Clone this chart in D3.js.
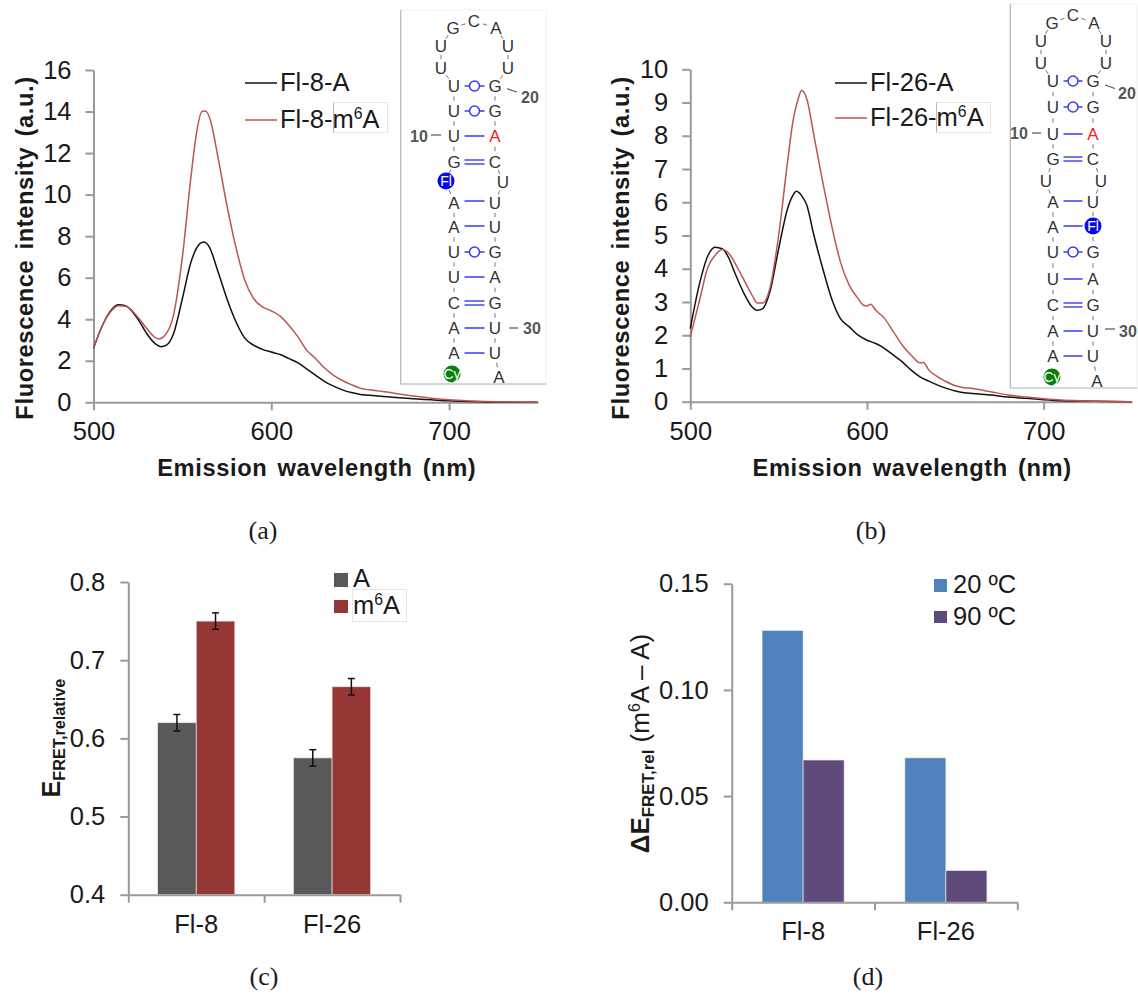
<!DOCTYPE html>
<html>
<head>
<meta charset="utf-8">
<script src="https://cdn.jsdelivr.net/npm/d3@7"></script>
<style>
  body { margin: 0; background: #fff; }
  svg { display: block; }
  text { font-family: "Liberation Sans", Arial, sans-serif; fill: #1a1a1a; }
  .caption { font-family: "Liberation Serif", serif; font-size: 26px; }
  .axis-line { stroke: #9a9a9a; stroke-width: 2; fill: none; }
</style>
</head>
<body>
<div id="chart"></div>
<script>
/// spectra
const wavelengthA8 = [500,505,510,514,518,525,530,535,538,541,545,550,555,560,562,565,570,575,580,585,590,595,600,605,610,615,620,625,630,635,640,645,650,655,660,670,680,690,700,710,720,730,750]
const fl8A = [2.6,3.7,4.45,4.7,4.65,4.0,3.3,2.8,2.68,2.75,3.3,5.0,6.8,7.65,7.72,7.5,6.3,5.0,3.9,3.1,2.75,2.55,2.42,2.3,2.1,1.9,1.6,1.3,1.0,.78,.6,.47,.38,.34,.3,.23,.17,.12,.07,.04,.02,.01,0]

const wavelengthM8 = [500,505,510,514,518,525,530,535,537,540,545,550,555,558,561,563,566,570,575,580,585,590,595,600,605,610,615,620,625,630,635,640,645,650,655,660,665,670,680,690,700,710,720,730,750]
const fl8M = [2.6,3.7,4.4,4.65,4.62,4.1,3.55,3.1,3.05,3.2,4.2,7.0,11,13,14.0,14.02,13.5,11.8,9.5,7.5,5.9,5.0,4.6,4.4,4.15,3.7,3.15,2.5,2.1,1.65,1.3,1.05,.85,.68,.6,.55,.5,.42,.3,.2,.12,.07,.04,.02,0]

const wavelengthA26 = [500,505,510,514,518,522,525,530,535,538,541,545,550,555,558,560,563,566,570,575,580,585,590,595,600,605,610,615,620,625,630,635,640,645,650,655,660,670,680,690,700,710,720,750]
const fl26A = [2.2,3.5,4.4,4.65,4.6,4.3,3.9,3.3,2.85,2.75,2.8,3.3,4.6,5.8,6.2,6.33,6.2,5.9,5.0,4.0,3.1,2.5,2.25,2.0,1.85,1.75,1.6,1.4,1.2,.95,.75,.62,.5,.4,.32,.27,.25,.2,.14,.1,.06,.03,.02,0]

const wavelengthM26 = [500,505,510,514,518,522,527,530,535,538,541,545,550,555,558,561,563,566,570,575,580,585,590,595,598,600,602,605,610,615,620,625,630,632,635,640,645,650,655,660,665,670,680,690,700,710,720,750]
const fl26M = [1.95,3.0,4.05,4.4,4.58,4.45,4.0,3.7,3.2,2.97,2.97,3.4,5.0,7.2,8.4,9.1,9.36,9.1,8.0,6.6,5.3,4.2,3.5,3.1,2.9,2.88,2.93,2.75,2.5,2.1,1.7,1.4,1.17,1.18,.95,.75,.6,.48,.42,.4,.35,.3,.2,.14,.09,.05,.03,0]

/// bar values
const constructs = ["Fl-8", "Fl-26"]
const relA = [0.62, 0.575]
const relM = [0.75, 0.666]
const relErr = [0.0105, 0.0105]
const delta20 = [0.128, 0.068]
const delta90 = [0.067, 0.015]

const ticksX = [500, 600, 700]
const ticksA = [0, 2, 4, 6, 8, 10, 12, 14, 16]
const ticksB = [0, 1, 2, 3, 4, 5, 6, 7, 8, 9, 10]
const ticksC = [0.4, 0.5, 0.6, 0.7, 0.8]
const ticksD = [0, 0.05, 0.10, 0.15]

const black = "#111111"
const red = "#bd5552"
const blue = "#3a3af5"
const tickFont = 25.5
const legendFont = 25.5

let svg = d3.select("#chart")
    .append("svg")
    .attr("width", 1138)
    .attr("height", 994)

/// text with sub and superscripts, parts are [text, kind, bold]
function rich(sel, parts, size) {
    let prev = 0
    parts.forEach(p => {
        let shift = p[1] == "sup" ? -0.36 * size : p[1] == "sub" ? 0.2 * size : 0
        sel.append("tspan")
            .attr("dy", shift - prev)
            .attr("font-size", p[1] ? size * (p[1] == "sup" ? 0.62 : 0.65) : size)
            .attr("font-weight", p[2] ? "bold" : "normal")
            .text(p[0])
        prev = shift
    })
    return sel
}

function styleAxis(g, size) {
    g.selectAll("path").attr("class", "axis-line")
    g.selectAll("line").attr("stroke", "#9a9a9a").attr("stroke-width", 2)
    g.selectAll("text").attr("font-size", size).attr("fill", "#1a1a1a")
}

function drawLegendBox(x, y, w, h) {
    svg.append("rect")
        .attr("x", x).attr("y", y).attr("width", w).attr("height", h)
        .attr("fill", "#fff").attr("stroke", "#e6e6e6")
}

/// one spectrum panel
function spectrum(cfg) {
    let x = d3.scaleLinear().domain([500, 750]).range(cfg.xr)
    let y = d3.scaleLinear().domain(cfg.yd).range(cfg.yr)

    let gx = svg.append("g").attr("transform", `translate(0, ${cfg.yr[0]})`)
        .call(d3.axisBottom(x).tickValues(ticksX).tickFormat(d3.format("d")).tickSize(8).tickPadding(12).tickSizeOuter(0))
    styleAxis(gx, tickFont)
    let gy = svg.append("g").attr("transform", `translate(${cfg.xr[0]}, 0)`)
        .call(d3.axisLeft(y).tickValues(cfg.ticks).tickSize(8).tickPadding(14).tickSizeOuter(0))
    styleAxis(gy, tickFont)

    let line = d3.line().curve(d3.curveMonotoneX)
        .x(d => x(d[0])).y(d => y(d[1]))

    cfg.series.forEach(s => {
        svg.append("path")
            .datum(d3.zip(s.xs, s.ys))
            .attr("fill", "none")
            .attr("stroke", s.color)
            .attr("stroke-width", 1.5)
            .attr("d", line)
    })

    /// legend
    drawLegendBox(cfg.box[0], cfg.box[1], cfg.box[2], cfg.box[3])
    svg.append("line")
        .attr("x1", cfg.box[0]).attr("x2", cfg.box[0])
        .attr("y1", cfg.box[1]).attr("y2", cfg.box[1] + cfg.box[3])
        .attr("stroke", "#b8b8b8")
    cfg.series.forEach((s, i) => {
        let ly = cfg.legendY[i]
        svg.append("line")
            .attr("x1", cfg.legendX).attr("x2", cfg.legendX + 32)
            .attr("y1", ly).attr("y2", ly)
            .attr("stroke", s.color).attr("stroke-width", 1.5)
        rich(svg.append("text").attr("x", cfg.legendX + 35).attr("y", ly + 8), s.label, legendFont)
    })

    svg.append("text")
        .attr("x", (cfg.xr[0] + cfg.xr[1]) / 2 + 1).attr("y", 476)
        .attr("text-anchor", "middle")
        .attr("font-size", 23.7).attr("font-weight", "bold")
        .attr("letter-spacing", 0.6).attr("word-spacing", 3)
        .text("Emission wavelength (nm)")

    svg.append("text")
        .attr("transform", `translate(${cfg.ylabelX}, 248) rotate(-90)`)
        .attr("text-anchor", "middle")
        .attr("font-size", 23.7).attr("font-weight", "bold")
        .attr("letter-spacing", 0.6).attr("word-spacing", 3)
        .text("Fluorescence intensity (a.u.)")
}

/// one grouped bar panel
function bars(cfg) {
    let x = d3.scaleBand().domain(constructs).range(cfg.xr)
    let sub = d3.scaleBand().domain([0, 1]).range([0, x.bandwidth()]).paddingInner(0).paddingOuter(cfg.outer)
    let y = d3.scaleLinear().domain(cfg.yd).range(cfg.yr)

    cfg.series.forEach((s, k) => {
        svg.selectAll(null)
            .data(constructs)
            .enter().append("rect")
            .attr("x", d => x(d) + sub(k))
            .attr("width", sub.bandwidth())
            .attr("y", (d, i) => y(s.values[i]))
            .attr("height", (d, i) => cfg.yr[0] - y(s.values[i]))
            .attr("fill", s.color)
            .attr("stroke", "#e8e8e8")
            .attr("stroke-width", 0.7)
    })

    /// error bars
    if (cfg.err) {
        cfg.series.forEach((s, k) => {
            constructs.forEach((c, i) => {
                let cx = x(c) + sub(k) + sub.bandwidth() / 2
                let hi = y(s.values[i] + cfg.err[i])
                let lo = y(s.values[i] - cfg.err[i])
                let g = svg.append("g").attr("stroke", "#111").attr("stroke-width", 1.5)
                g.append("line").attr("x1", cx).attr("x2", cx).attr("y1", hi).attr("y2", lo)
                g.append("line").attr("x1", cx - 3.5).attr("x2", cx + 3.5).attr("y1", hi).attr("y2", hi)
                g.append("line").attr("x1", cx - 3.5).attr("x2", cx + 3.5).attr("y1", lo).attr("y2", lo)
            })
        })
    }

    /// the ticks sit between the groups, labels in the middle of them
    let edges = d3.scaleLinear().domain([0, constructs.length]).range(cfg.xr)
    let ge = svg.append("g").attr("transform", `translate(0, ${cfg.yr[0]})`)
        .call(d3.axisBottom(edges).tickValues([0, 1, 2]).tickFormat("").tickSize(8).tickSizeOuter(0))
    styleAxis(ge, tickFont)
    let gx = svg.append("g").attr("transform", `translate(0, ${cfg.yr[0]})`)
        .call(d3.axisBottom(x).tickSize(0).tickPadding(cfg.catPad))
    gx.select("path").remove()
    styleAxis(gx, tickFont)

    let gy = svg.append("g").attr("transform", `translate(${cfg.xr[0]}, 0)`)
        .call(d3.axisLeft(y).tickValues(cfg.ticks).tickFormat(d3.format(cfg.fmt)).tickSize(8).tickPadding(15).tickSizeOuter(0))
    styleAxis(gy, tickFont)
}

spectrum({
    xr: [93.5, 538], yr: [402.3, 70], yd: [0, 16], ticks: ticksA, ylabelX: 33,
    legendX: 245, legendY: [83, 120], box: [333.5, 102.5, 54, 30],
    series: [
        { xs: wavelengthA8, ys: fl8A, color: black, label: [["Fl-8-A"]] },
        { xs: wavelengthM8, ys: fl8M, color: red, label: [["Fl-8-"], ["m"], ["6", "sup"], ["A"]] }
    ]
})

spectrum({
    xr: [690.3, 1132], yr: [401.7, 69.3], yd: [0, 10], ticks: ticksB, ylabelX: 629,
    legendX: 835, legendY: [83, 118], box: [936.5, 102.5, 54, 30],
    series: [
        { xs: wavelengthA26, ys: fl26A, color: black, label: [["Fl-26-A"]] },
        { xs: wavelengthM26, ys: fl26M, color: red, label: [["Fl-26-"], ["m"], ["6", "sup"], ["A"]] }
    ]
})

bars({
    xr: [128.3, 400], yr: [894.7, 582], yd: [0.4, 0.8], ticks: ticksC, fmt: ".1f", outer: 0.76, catPad: 20, err: relErr,
    series: [{ values: relA, color: "#595959" }, { values: relM, color: "#953735" }]
})

bars({
    xr: [731.7, 1017.3], yr: [902.3, 583.7], yd: [0, 0.15], ticks: ticksD, fmt: ".2f", outer: 0.74, catPad: 20,
    series: [{ values: delta20, color: "#4f81bd" }, { values: delta90, color: "#604a7b" }]
})

/// bar legends
svg.append("rect").attr("x", 334).attr("y", 573).attr("width", 14).attr("height", 14).attr("fill", "#595959")
svg.append("rect").attr("x", 334).attr("y", 600).attr("width", 14).attr("height", 13).attr("fill", "#953735")
svg.append("text").attr("x", 353).attr("y", 586.5).attr("font-size", legendFont).text("A")
drawLegendBox(352.5, 589.5, 54, 32)
rich(svg.append("text").attr("x", 353).attr("y", 614), [["m"], ["6", "sup"], ["A"]], legendFont)

svg.append("rect").attr("x", 934).attr("y", 579).attr("width", 13).attr("height", 13).attr("fill", "#4f81bd")
svg.append("rect").attr("x", 934).attr("y", 611).attr("width", 13).attr("height", 12).attr("fill", "#604a7b")
svg.append("text").attr("x", 953).attr("y", 593).attr("font-size", legendFont).text("20 ºC")
svg.append("text").attr("x", 953).attr("y", 625).attr("font-size", legendFont).text("90 ºC")

/// bar y labels
rich(svg.append("text")
    .attr("transform", "translate(60, 738) rotate(-90)")
    .attr("text-anchor", "middle"), [["E", null, true], ["FRET,relative", "sub", true]], 25)

rich(svg.append("text")
    .attr("transform", "translate(649, 743.5) rotate(-90)")
    .attr("text-anchor", "middle"),
    [["ΔE", null, true], ["FRET,rel", "sub", true], [" (m"], ["6", "sup"], ["A – A)"]], 26)

/// captions
const captions = [["(a)", 263, 539], ["(b)", 871, 539], ["(c)", 264, 985], ["(d)", 868, 985]]
svg.selectAll(".caption")
    .data(captions)
    .enter().append("text")
    .attr("class", "caption")
    .attr("text-anchor", "middle")
    .attr("x", d => d[1])
    .attr("y", d => d[2])
    .text(d => d[0])

/// rna insets, nodes run up the left strand, over the loop, down the right strand
function inset(cfg) {
    let g = svg.append("g")
    g.append("rect")
        .attr("x", cfg.box[0]).attr("y", cfg.box[1])
        .attr("width", cfg.box[2] - cfg.box[0]).attr("height", cfg.box[3] - cfg.box[1])
        .attr("fill", "#fff").attr("stroke", "#f0f0f0")
    g.append("path")
        .attr("d", `M${cfg.box[0]},${cfg.box[1]}V${cfg.box[3]}H${cfg.box[2]}`)
        .attr("fill", "none").attr("stroke", "#b5b5b5").attr("stroke-width", 1.2)

    /// backbone dashes
    d3.pairs(cfg.nodes).forEach(p => {
        let mx = (p[0][1] + p[1][1]) / 2, my = (p[0][2] + p[1][2]) / 2
        let dx = p[1][1] - p[0][1], dy = p[1][2] - p[0][2]
        let len = Math.hypot(dx, dy) || 1
        g.append("line")
            .attr("x1", mx - dx / len * 2.2).attr("x2", mx + dx / len * 2.2)
            .attr("y1", my - dy / len * 2.2).attr("y2", my + dy / len * 2.2)
            .attr("stroke", "#777").attr("stroke-width", 1)
    })

    /// base pairs
    cfg.pairs.forEach(p => {
        let x1 = cfg.colL + 10.5, x2 = cfg.colR - 10.5, y = p[1]
        if (p[0] == "=") {
            g.append("line").attr("x1", x1).attr("x2", x2).attr("y1", y - 2).attr("y2", y - 2).attr("stroke", blue).attr("stroke-width", 1.4)
            g.append("line").attr("x1", x1).attr("x2", x2).attr("y1", y + 2).attr("y2", y + 2).attr("stroke", blue).attr("stroke-width", 1.4)
        } else {
            g.append("line").attr("x1", x1).attr("x2", x2).attr("y1", y).attr("y2", y).attr("stroke", blue).attr("stroke-width", 1.5)
        }
        if (p[0] == "o") {
            g.append("circle").attr("cx", (x1 + x2) / 2).attr("cy", y).attr("r", 5)
                .attr("fill", "#fff").attr("stroke", blue).attr("stroke-width", 1.5)
        }
    })

    cfg.nodes.concat([cfg.cy]).forEach(n => {
        if (n[0] == "Fl" || n[0] == "Cy") {
            g.append("circle").attr("cx", n[1]).attr("cy", n[2]).attr("r", 8.5)
                .attr("fill", n[0] == "Fl" ? "#0808e8" : "#0a800a")
        }
        g.append("text")
            .attr("x", n[1]).attr("y", n[2])
            .attr("dy", "0.36em")
            .attr("text-anchor", "middle")
            .attr("font-size", n[0].length > 1 ? 14 : 17)
            .style("fill", n[3] || (n[0].length > 1 ? "#fff" : "#333"))
            .text(n[0])
    })

    /// position labels
    cfg.labels.forEach(l => {
        g.append("line").attr("x1", l[3]).attr("y1", l[4]).attr("x2", l[5]).attr("y2", l[6])
            .attr("stroke", "#555").attr("stroke-width", 1.2)
        g.append("text")
            .attr("x", l[1]).attr("y", l[2]).attr("dy", "0.36em")
            .attr("text-anchor", "middle")
            .attr("font-size", 16).attr("font-weight", "bold")
            .style("fill", "#555")
            .text(l[0])
    })
}

inset({
    box: [400.7, 10, 546, 384], colL: 454, colR: 495,
    nodes: [
        ["A",454,353],["A",454,328],["C",454,303],["U",454,277],["U",454,252],["A",454,227],["A",454,203],
        ["Fl",446,181],["G",454,162],["U",454,136],["U",454,111],["U",454,86],
        ["U",441,68],["U",441,46],["G",453,28],["C",474,21],["A",496,28],["U",508,46],["U",508,68],
        ["G",495,86],["G",495,111],["A",495,136,"#f02020"],["C",495,162],["U",503,182],
        ["U",495,203],["U",495,227],["G",495,252],["A",495,277],["G",495,303],["U",495,328],["U",495,353],["A",499,377]
    ],
    cy: ["Cy",452,374],
    pairs: [["o",86],["o",111],["-",136],["=",162],["-",201],["-",226],["o",252],["-",277],["=",303],["-",328],["-",353]],
    labels: [["20",530,97,507,88.7,517,92],["10",419,136,431,135,441,135],["30",532,328,509,328,518,328]]
})

inset({
    box: [1010.3, 4, 1137, 388], colL: 1053, colR: 1093,
    nodes: [
        ["A",1053,356],["A",1053,331],["C",1053,305],["U",1053,279],["U",1053,252],["A",1053,227],["A",1053,202],
        ["U",1046,181],["G",1053,159],["U",1053,134],["U",1053,107],["U",1053,81],
        ["U",1041,63],["U",1041,41],["G",1052,23],["C",1073,15],["A",1094,23],["U",1106,41],["U",1106,63],
        ["G",1093,81],["G",1093,107],["A",1093,134,"#f02020"],["C",1093,159],["U",1101,181],
        ["U",1093,202],["Fl",1093,226],["G",1093,252],["A",1093,279],["G",1093,305],["U",1093,331],["U",1093,356],["A",1097,381]
    ],
    cy: ["Cy",1052,377],
    pairs: [["o",81],["o",107],["-",134],["=",159],["-",201],["-",226],["o",252],["-",279],["=",305],["-",331],["-",356]],
    labels: [["20",1127,93,1105,85,1115,88.5],["10",1019,133,1032,133,1041,133],["30",1128,331,1105,329,1115,329]]
})
</script>
</body>
</html>
